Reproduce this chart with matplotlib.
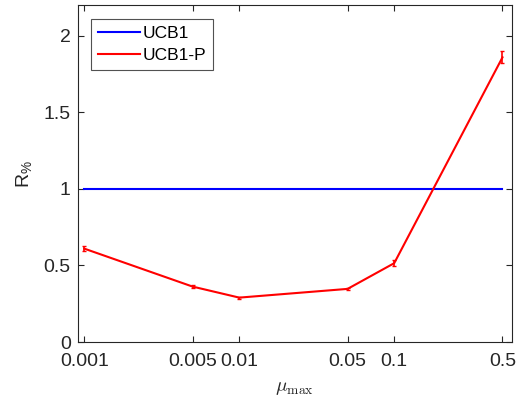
import matplotlib
matplotlib.use("Agg")
import matplotlib.pyplot as plt
from matplotlib.lines import Line2D
import numpy as np

plt.rcParams['font.family'] = ['Liberation Sans', 'DejaVu Sans']
plt.rcParams['mathtext.fontset'] = 'cm'

mu_max = [0.001, 0.005, 0.01, 0.05, 0.1, 0.5]
tick_labels = ['0.001', '0.005', '0.01', '0.05', '0.1', '0.5']
ucb1 = [1, 1, 1, 1, 1, 1]
ucb1p = [0.61, 0.362, 0.29, 0.347, 0.515, 1.86]
ucb1p_err = [0.015, 0.008, 0.006, 0.008, 0.02, 0.04]

fig = plt.figure(figsize=(5.18, 3.98), dpi=100)
ax = fig.add_axes([0.15, 0.1407, 0.838, 0.846])

ax.plot(mu_max, ucb1, color='#0000ff', lw=1.5)
ax.errorbar(mu_max, ucb1p, yerr=ucb1p_err, color='#ff0000', lw=1.5,
            capsize=1.5, elinewidth=1.2)

ax.set_xscale('log')
ax.set_xlim(0.000906, 0.574)
ax.set_ylim(0, 2.2)
ax.set_xticks(mu_max)
ax.set_xticklabels(tick_labels)
ax.xaxis.set_minor_locator(matplotlib.ticker.NullLocator())
ax.set_yticks([0, 0.5, 1, 1.5, 2])
ax.set_yticklabels(['0', '0.5', '1', '1.5', '2'])

edge = '#262626'
for s in ax.spines.values():
    s.set_color(edge)
    s.set_linewidth(0.8)
ax.tick_params(direction='in', top=True, right=True, length=4, width=0.8,
               colors=edge, labelsize=14, labelcolor='#262626')
ax.tick_params(axis='x', pad=8)
ax.tick_params(axis='y', pad=5)

ax.set_xlabel(r'$\mu_{\max}$', fontsize=14, color='#262626', labelpad=7)
ax.set_ylabel(r'R$_{\mathregular{\%}}$', fontsize=14, color='#262626', labelpad=6)

handles = [Line2D([], [], color='#0000ff', lw=1.5),
           Line2D([], [], color='#ff0000', lw=1.5)]
leg = ax.legend(handles, ['UCB1', 'UCB1-P'], loc='upper left', fontsize=12.5,
                frameon=True, fancybox=False, edgecolor=edge, handlelength=2.4,
                borderaxespad=0.78, borderpad=0.38, handletextpad=0.2,
                labelspacing=0.42)
leg.get_frame().set_linewidth(0.8)

fig.savefig('out.png', dpi=100)
